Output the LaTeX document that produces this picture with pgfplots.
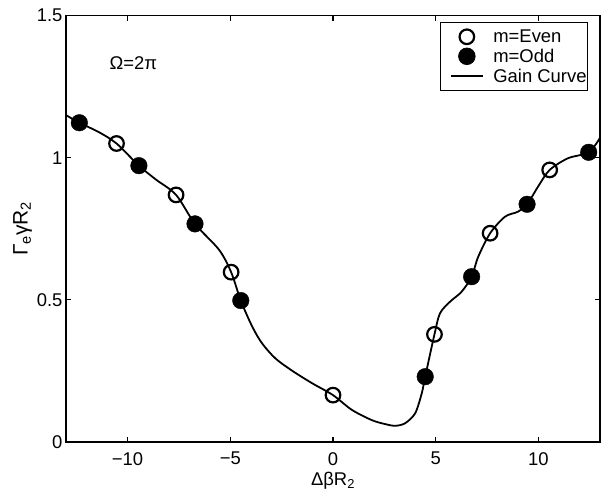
\documentclass[border=0pt]{standalone}
\usepackage{fontspec}
\setmainfont{Liberation Sans}
\usepackage{pgfplots}
\pgfplotsset{compat=1.18}
\newcommand{\fs}{\fontsize{18.5}{22}\selectfont}
\pgfplotsset{
  marklegend/.style={legend image code/.code={
    \path[draw=none,fill=none] (0bp,0bp) -- (52bp,0bp);
    \draw[#1] plot coordinates {(26bp,0bp)};}},
  linelegend/.style={legend image code/.code={
    \path[draw=none,fill=none] (0bp,0bp) -- (52bp,0bp);
    \draw[#1] (10bp,0bp) -- (42bp,0bp);}},
}
\begin{document}
\begin{tikzpicture}
\begin{axis}[
  name=ax,
  scale only axis,
  width=534bp, height=426bp,
  xmin=-13, xmax=13, ymin=0, ymax=1.5,
  axis line style={line width=1.6bp},
  every tick/.style={black, line width=1.2bp},
  major tick length=5bp,
  tick align=inside,
  xtick={-10,-5,0,5,10},
  xticklabels={−10,−5,0,5,10},
  ytick={0,0.5,1,1.5},
  yticklabels={0,0.5,1,1.5},
  tick label style={font=\fs},
  xticklabel style={yshift=-7bp},
  xlabel={ΔβR\textsubscript{2}},
  ylabel={Γ\textsubscript{e}γR\textsubscript{2}},
  xlabel style={font=\fs, yshift=0bp},
  ylabel style={font=\fontsize{21}{24}\selectfont, yshift=-2bp},
  legend style={at={(rel axis cs:0.9775,0.9845)}, anchor=north east,
    draw=black, line width=0.8bp, font=\fs, legend cell align=left,
    inner xsep=0.5bp, inner ysep=6bp, row sep=3bp, column sep=0bp,
    nodes={inner xsep=0.5bp, inner ysep=1bp}},
]
\addplot[only marks, mark=o, mark size=7.3bp, line width=2.2bp, black, marklegend]
  coordinates {
  (-10.54,1.050) (-7.64,0.869) (-4.96,0.597) (0,0.164)
  (4.94,0.378) (7.65,0.734) (10.55,0.957)
};
\addlegendentry{m=Even}
\addplot[only marks, mark=*, mark size=8.3bp, black, marklegend]
  coordinates {
  (-12.35,1.123) (-9.45,0.972) (-6.72,0.767) (-4.49,0.497)
  (4.49,0.229) (6.75,0.581) (9.45,0.836) (12.45,1.019)
};
\addlegendentry{m=Odd}
\addplot[black, line width=1.8bp, smooth, tension=0.5, no marks, linelegend]
  coordinates {
  (-13,1.15) (-12.35,1.123) (-11.4,1.09) (-10.54,1.050) (-9.45,0.972)
  (-8.62,0.923) (-7.64,0.869) (-6.72,0.767) (-5.55,0.676) (-4.96,0.597)
  (-4.49,0.497) (-3.93,0.405) (-3.45,0.346) (-2.80,0.293) (-1.99,0.250)
  (-1.02,0.206) (0,0.164) (0.92,0.112) (1.89,0.076) (2.54,0.062)
  (3.03,0.056) (3.51,0.065) (4.0,0.10) (4.32,0.17) (4.49,0.229)
  (4.94,0.378) (5.21,0.452) (5.70,0.493) (6.26,0.528) (6.75,0.581)
  (7.07,0.651) (7.65,0.734) (8.37,0.792) (9.01,0.81) (9.45,0.836)
  (10.0,0.90) (10.55,0.957) (11.44,0.998) (12.45,1.019) (13,1.07)
};
\addlegendentry{Gain Curve}
\node[font=\fs] at (axis cs:-9.72,1.332) {Ω=2π};
\end{axis}
\pgfresetboundingbox
\path[use as bounding box] ([xshift=-66bp,yshift=-51.3bp]ax.south west) rectangle ([xshift=2bp,yshift=15.7bp]ax.north east);
\end{tikzpicture}
\end{document}
